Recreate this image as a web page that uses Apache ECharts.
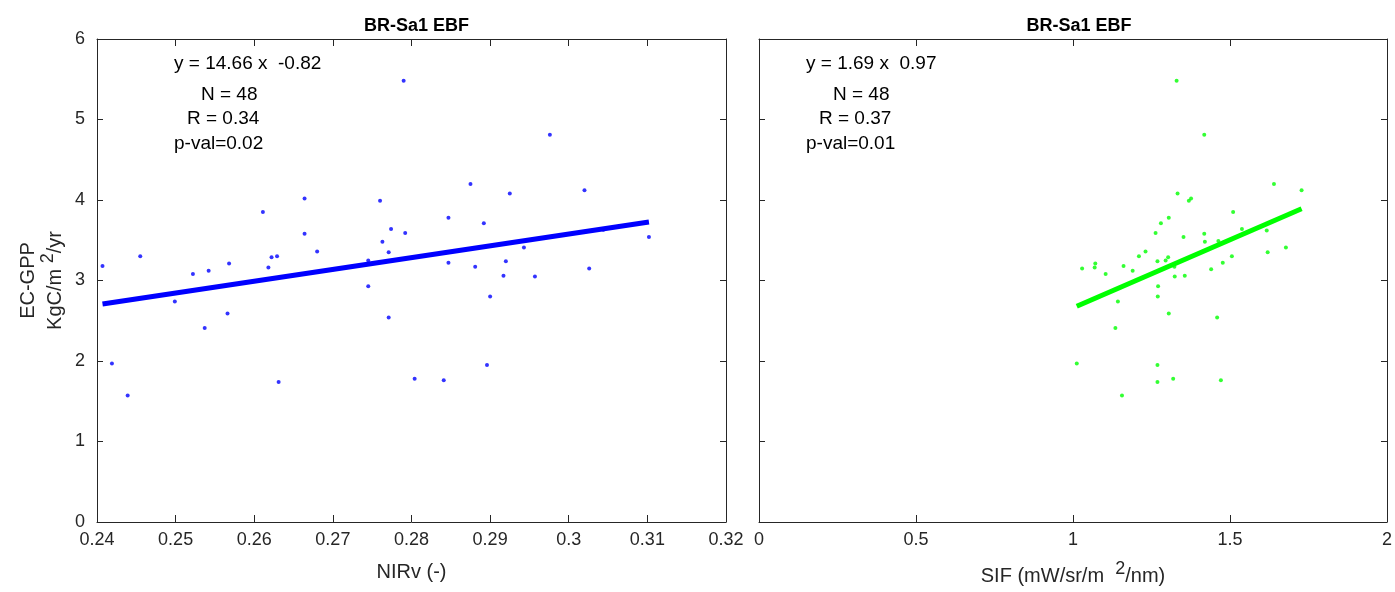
<!DOCTYPE html>
<html><head><meta charset="utf-8">
<script src="https://cdn.jsdelivr.net/npm/echarts@6/dist/echarts.min.js"></script>
<style>html,body{margin:0;padding:0;background:#fff}#c{width:1395px;height:592px}</style>
</head><body><div id="c"></div>
<script>
// ---- data ----
const nirvX = [0.2407,0.2455,0.2522,0.2542,0.2568,0.2611,0.2622,0.2629,0.2618,0.2664,0.2664,0.2680,0.2745,0.2760,0.2774,0.2763,0.2771,0.2792,0.2790,0.2976,0.2875,0.2925,0.3020,0.2847,0.2892,0.3044,0.3102,0.2943,0.2847,0.2881,0.2920,0.3026,0.2917,0.2957,0.2745,0.2499,0.2566,0.2537,0.2771,0.2419,0.2439,0.2631,0.2804,0.2900,0.2896,0.2841,0.2940,0.2701];
const nirvGpp = [3.18,3.30,3.08,3.12,3.21,3.85,3.29,3.30,3.16,4.02,3.58,3.36,3.25,3.99,3.64,3.48,3.35,3.59,5.48,4.81,4.20,4.08,4.12,3.78,3.71,3.63,3.54,3.41,3.22,3.17,3.24,3.15,3.06,3.05,2.93,2.74,2.59,2.41,2.54,1.97,1.57,1.74,1.78,2.80,1.95,1.76,3.49,3.14];
const sifX = [1.330,1.418,1.640,1.728,1.333,1.369,1.376,1.510,1.305,1.280,1.263,1.352,1.418,1.420,1.463,1.538,1.617,1.620,1.678,1.506,1.477,1.440,1.231,1.210,1.303,1.295,1.269,1.161,1.190,1.071,1.069,1.029,1.104,1.323,1.324,1.356,1.271,1.270,1.143,1.305,1.459,1.135,1.012,1.269,1.269,1.319,1.471,1.156];
const sifGpp = [5.48,4.81,4.20,4.12,4.08,3.99,4.02,3.85,3.78,3.71,3.59,3.54,3.58,3.48,3.49,3.64,3.62,3.35,3.41,3.30,3.22,3.14,3.36,3.30,3.29,3.25,3.24,3.18,3.12,3.21,3.16,3.15,3.08,3.17,3.05,3.06,2.93,2.80,2.74,2.59,2.54,2.41,1.97,1.95,1.74,1.78,1.76,1.57];
const fitNirv = {slope: 14.66, intercept: -0.82};
const fitSif = {slope: 1.69, intercept: 0.97};
const titles = ['BR-Sa1 EBF', 'BR-Sa1 EBF'];
const statsNirv = ['y = 14.66 x  -0.82', 'N = 48', 'R = 0.34', 'p-val=0.02'];
const statsSif = ['y = 1.69 x  0.97', 'N = 48', 'R = 0.37', 'p-val=0.01'];

// ---- chart ----
const FONT = '"Liberation Sans", Arial, Helvetica, sans-serif';
const AX = '#262626';
const chart = echarts.init(document.getElementById('c'), null, {renderer: 'canvas'});

const grids = [
  {left: 97, top: 39, width: 629, height: 483},
  {left: 759, top: 39, width: 630, height: 483}
];

const richStyles = {
  a: {fontFamily: FONT, fontSize: 20, color: AX, lineHeight: 22, verticalAlign: 'middle'},
  n: {fontFamily: FONT, fontSize: 20, color: AX, lineHeight: 32, verticalAlign: 'middle'},
  sup: {fontFamily: FONT, fontSize: 18, color: AX, lineHeight: 14, verticalAlign: 'top'}
};

function xAxis(gi, min, max, interval, pos, showLabel, name) {
  return {
    type: 'value', gridIndex: gi, position: pos, min, max, interval,
    name: name || '', nameLocation: 'middle', nameGap: gi === 0 ? 40 : 38,
    nameTextStyle: {fontFamily: FONT, fontSize: 20, color: AX, rich: richStyles},
    axisLine: {show: true, onZero: false, lineStyle: {color: AX, width: 1}},
    axisTick: {show: true, inside: true, length: 7, lineStyle: {color: AX}},
    axisLabel: {show: showLabel, margin: 9, fontFamily: FONT, fontSize: 18, color: AX},
    splitLine: {show: false}
  };
}
function yAxis(gi, pos, showLabel, name) {
  return {
    type: 'value', gridIndex: gi, position: pos, min: 0, max: 6, interval: 1,
    name: name || '', nameLocation: 'middle', nameGap: 26, nameRotate: 90,
    nameTextStyle: {fontFamily: FONT, fontSize: 20, color: AX, align: 'center', rich: richStyles},
    axisLine: {show: true, onZero: false, lineStyle: {color: AX, width: 1}},
    axisTick: {show: true, inside: true, length: 6, lineStyle: {color: AX}},
    axisLabel: {show: showLabel, margin: 12, fontFamily: FONT, fontSize: 18, color: AX},
    splitLine: {show: false}
  };
}

function pts(xs, ys) { return xs.map((x, i) => [x, ys[i]]); }
function fitLine(xs, fit) {
  const lo = Math.min(...xs), hi = Math.max(...xs);
  return [[lo, fit.slope * lo + fit.intercept], [hi, fit.slope * hi + fit.intercept]];
}

function statText(lines, lefts, tops) {
  return lines.map((t, i) => ({
    type: 'text', x: lefts[i], y: tops[i], silent: true,
    style: {text: t, fontFamily: FONT, fontSize: 19, fill: '#000', textAlign: 'left', textVerticalAlign: 'middle'}
  }));
}

const option = {
  backgroundColor: '#fff',
  animation: false,
  title: titles.map((t, i) => ({
    text: t, left: grids[i].left + grids[i].width / 2, top: 12, textAlign: 'center',
    textStyle: {fontFamily: FONT, fontSize: 18, fontWeight: 'bold', color: '#000'}
  })),
  grid: grids,
  xAxis: [
    xAxis(0, 0.24, 0.32, 0.01, 'bottom', true, 'NIRv (-)'),
    xAxis(0, 0.24, 0.32, 0.01, 'top', false),
    xAxis(1, 0, 2, 0.5, 'bottom', true, '{n|SIF (mW/sr/m  }{sup|2}{n|/nm)}'),
    xAxis(1, 0, 2, 0.5, 'top', false)
  ],
  yAxis: [
    yAxis(0, 'left', true, '{a|EC-GPP}\n{n|KgC/m }{sup|2}{n|/yr}'),
    yAxis(0, 'right', false),
    yAxis(1, 'left', false),
    yAxis(1, 'right', false)
  ],
  series: [
    {type: 'scatter', xAxisIndex: 0, yAxisIndex: 0, data: pts(nirvX, nirvGpp), symbolSize: 4,
     itemStyle: {color: '#0000ff'}, silent: true},
    {type: 'line', xAxisIndex: 0, yAxisIndex: 0, data: fitLine(nirvX, fitNirv), showSymbol: false,
     lineStyle: {color: '#0000ff', width: 5}, silent: true},
    {type: 'scatter', xAxisIndex: 2, yAxisIndex: 2, data: pts(sifX, sifGpp), symbolSize: 4,
     itemStyle: {color: '#00ff00'}, silent: true},
    {type: 'line', xAxisIndex: 2, yAxisIndex: 2, data: fitLine(sifX, fitSif), showSymbol: false,
     lineStyle: {color: '#00ff00', width: 5}, silent: true}
  ],
  graphic: [
    ...statText(statsNirv, [174, 201, 187, 174], [64, 95, 119, 144]),
    ...statText(statsSif, [806, 833, 819, 806], [64, 95, 119, 144])
  ]
};
chart.setOption(option);
</script>
</body></html>
